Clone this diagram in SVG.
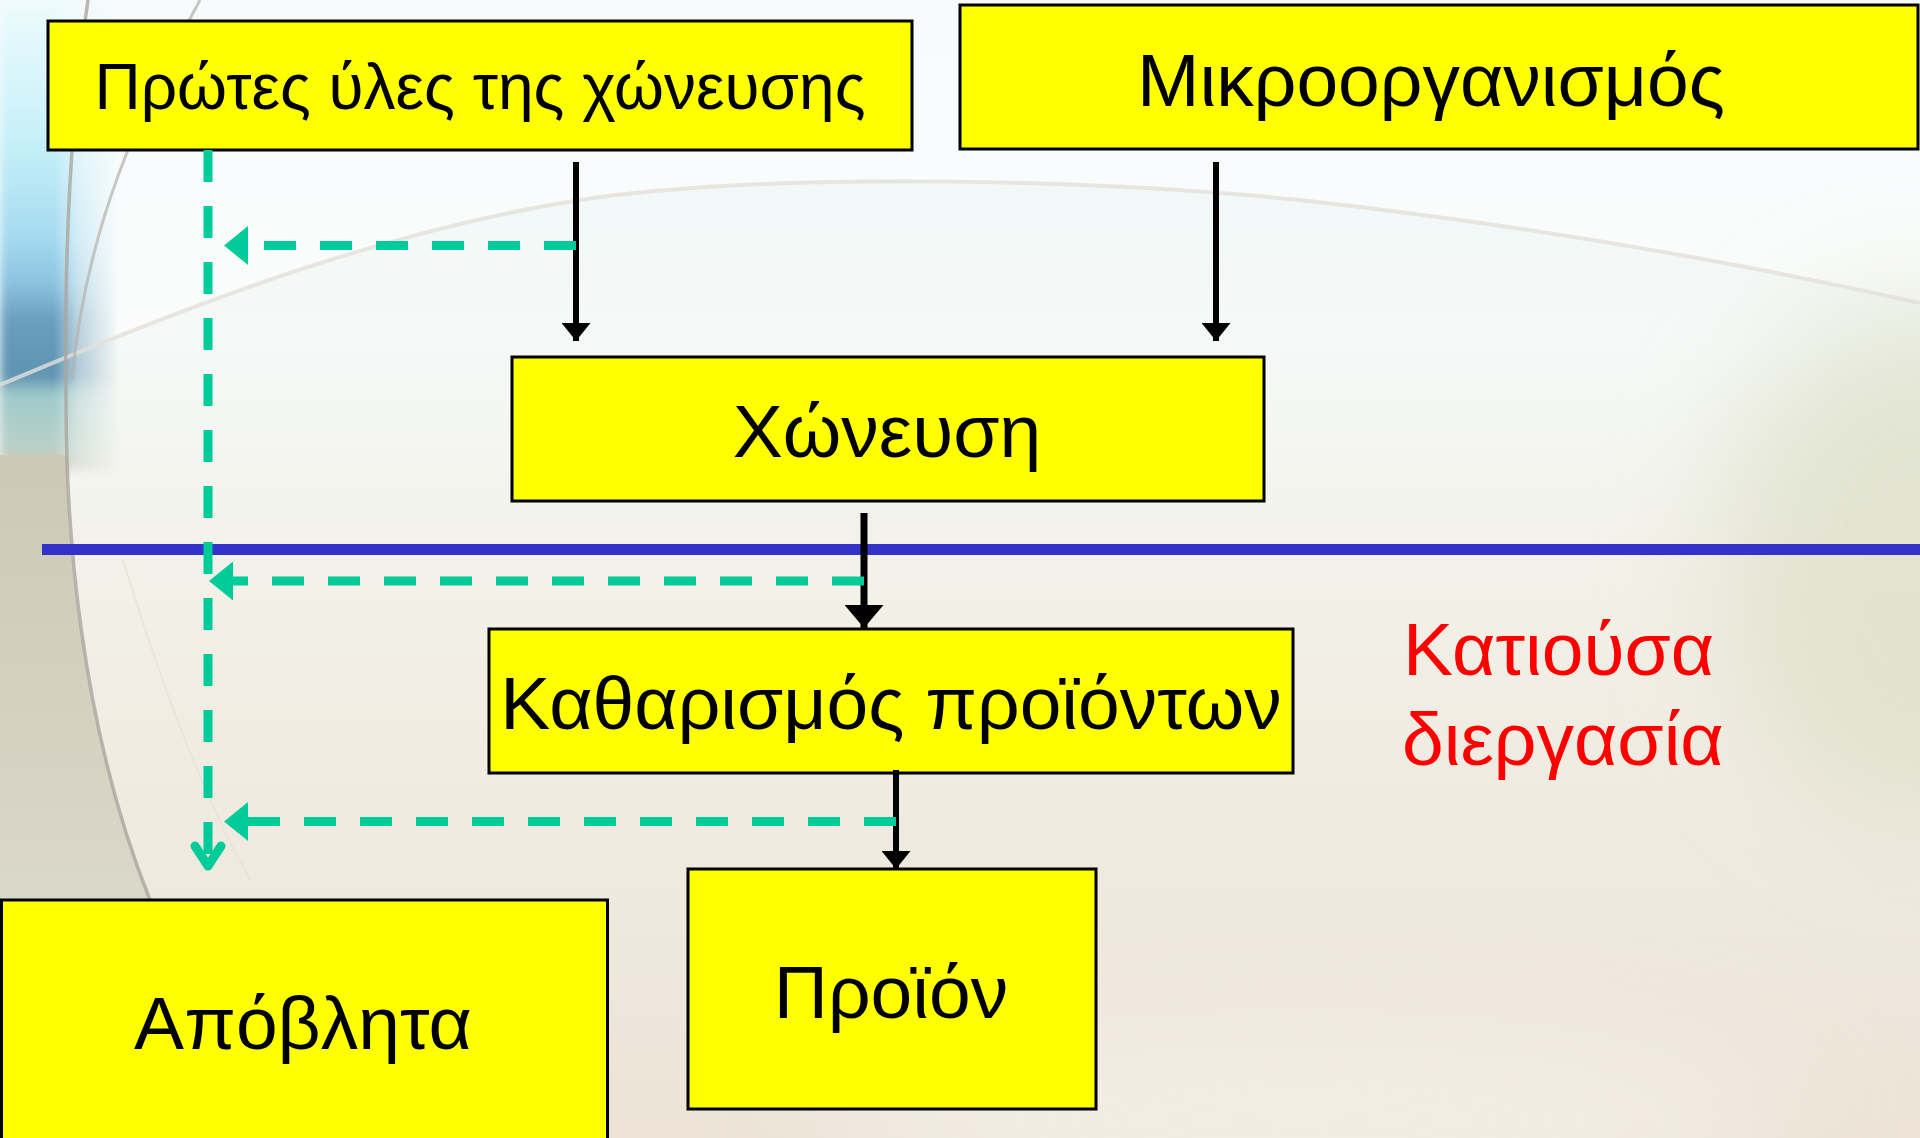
<svg xmlns="http://www.w3.org/2000/svg" width="1920" height="1138" viewBox="0 0 1920 1138">
<style>
.box{fill:#ffff00;stroke:#000;stroke-width:3}
.lbl{font-family:"Liberation Sans",Arial,sans-serif;fill:#000;text-anchor:middle;font-size:75px}
.red{font-family:"Liberation Sans",Arial,sans-serif;fill:#ff0000;font-size:75px}
.blk{stroke:#000;stroke-width:6;fill:none}
.dash{stroke:#00cc99;stroke-width:9;fill:none;stroke-dasharray:32 24}
</style>
<defs>
<linearGradient id="bg" x1="0" y1="0" x2="0" y2="1">
<stop offset="0" stop-color="#eef7f9"/>
<stop offset="0.3" stop-color="#f5f9f7"/>
<stop offset="0.55" stop-color="#f2efe6"/>
<stop offset="1" stop-color="#ece3d6"/>
</linearGradient>
<linearGradient id="leftTop" x1="0" y1="0" x2="0" y2="470" gradientUnits="userSpaceOnUse">
<stop offset="0" stop-color="#eefbfd"/>
<stop offset="0.3" stop-color="#c6f0f8"/>
<stop offset="0.5" stop-color="#a6dbf0"/>
<stop offset="0.6" stop-color="#8cc4e0"/>
<stop offset="0.68" stop-color="#6b9fbf"/>
<stop offset="0.8" stop-color="#5f93b2"/>
<stop offset="0.84" stop-color="#9fcaca"/>
<stop offset="0.95" stop-color="#b8d0c8"/>
<stop offset="1" stop-color="#cfcbb9"/>
</linearGradient>
<linearGradient id="leftBot" x1="0" y1="460" x2="0" y2="1138" gradientUnits="userSpaceOnUse">
<stop offset="0" stop-color="#cdc9b8"/>
<stop offset="0.4" stop-color="#d6d1c1"/>
<stop offset="0.7" stop-color="#dbdacb"/>
<stop offset="1" stop-color="#e2dccd"/>
</linearGradient>
<linearGradient id="fadeX" x1="0" y1="0" x2="120" y2="0" gradientUnits="userSpaceOnUse">
<stop offset="0" stop-color="#fff" stop-opacity="1"/>
<stop offset="0.45" stop-color="#fff" stop-opacity="1"/>
<stop offset="0.65" stop-color="#fff" stop-opacity="0.45"/>
<stop offset="1" stop-color="#fff" stop-opacity="0"/>
</linearGradient>
<mask id="leftMask"><rect x="0" y="0" width="120" height="480" fill="url(#fadeX)"/></mask>
<filter id="blur" x="-20%" y="-20%" width="140%" height="140%"><feGaussianBlur stdDeviation="5"/></filter>
<filter id="blur2" x="-50%" y="-50%" width="200%" height="200%"><feGaussianBlur stdDeviation="60"/></filter>
<marker id="ah" markerUnits="userSpaceOnUse" markerWidth="18" markerHeight="29" viewBox="0 0 18 29" refX="18" refY="14.5" orient="auto">
<path d="M0,0 L18,14.5 L0,29 Z" fill="#000"/>
</marker>
<marker id="ahL" markerUnits="userSpaceOnUse" markerWidth="23" markerHeight="39" viewBox="0 0 23 39" refX="23" refY="19.5" orient="auto">
<path d="M0,0 L23,19.5 L0,39 Z" fill="#000"/>
</marker>
<marker id="gh" markerUnits="userSpaceOnUse" markerWidth="24" markerHeight="39" viewBox="0 0 24 39" refX="16" refY="19.5" orient="auto">
<path d="M0,0 L24,19.5 L0,39 Z" fill="#00cc99"/>
</marker>
</defs>

<g id="background">
<rect width="1920" height="1138" fill="url(#bg)"/>
<path d="M0,385 C200,300 400,225 600,197 C800,172 1100,180 1300,200 C1550,228 1750,265 1920,303 L1920,0 L0,0 Z" fill="#ffffff" opacity="0.55"/>
<ellipse cx="1920" cy="560" rx="200" ry="260" fill="#dcdec6" opacity="0.7" filter="url(#blur2)"/>
<ellipse cx="1300" cy="1120" rx="500" ry="90" fill="#f6f2ea" opacity="0.7" filter="url(#blur2)"/>
<g mask="url(#leftMask)">
<rect x="0" y="0" width="120" height="470" fill="url(#leftTop)" filter="url(#blur)"/>
</g>
<path d="M0,455 L67,455 C67,520 78,720 150,900 L170,1138 L0,1138 Z" fill="url(#leftBot)"/>
<path d="M0,385 C200,300 400,225 600,197 C800,172 1100,180 1300,200 C1550,228 1750,265 1920,303" fill="none" stroke="#e4e0da" stroke-width="4" opacity="0.8"/>
<path d="M88,0 C70,120 64,250 66,400 C66,520 78,720 150,900 L175,990" fill="none" stroke="#aaa69e" stroke-width="3.5" opacity="0.8"/>
<path d="M200,0 C140,110 85,230 72,380" fill="none" stroke="#b5b1aa" stroke-width="3" opacity="0.7"/>
<path d="M123,560 C160,680 200,790 250,880" fill="none" stroke="#e8e2d8" stroke-width="2" opacity="0.8"/>
</g>

<g id="separator">
<line x1="42" y1="549.5" x2="1920" y2="549.5" stroke="#3333cc" stroke-width="11"/>
</g>

<g id="node-prwtes-yles">
<rect class="box" x="48" y="21" width="864" height="129"/>
<text class="lbl" x="480" y="109" font-size="64" style="font-size:64px">Πρώτες ύλες της χώνευσης</text>
</g>
<g id="node-mikroorganismos">
<rect class="box" x="960" y="5" width="958" height="144"/>
<text class="lbl" x="1431" y="106">Μικροοργανισμός</text>
</g>
<g id="node-xwneusi">
<rect class="box" x="512" y="357" width="752" height="144"/>
<text class="lbl" x="887" y="457">Χώνευση</text>
</g>
<g id="node-katharismos">
<rect class="box" x="489" y="629" width="804" height="144"/>
<text class="lbl" x="891" y="729">Καθαρισμός προϊόντων</text>
</g>
<g id="node-apovlita">
<rect class="box" x="1.5" y="900" width="606" height="260"/>
<text class="lbl" x="303" y="1049">Απόβλητα</text>
</g>
<g id="node-proion">
<rect class="box" x="688" y="869" width="408" height="240"/>
<text class="lbl" x="891" y="1018">Προϊόν</text>
</g>
<g id="label-katiousa">
<text class="red" x="1403" y="675">Κατιούσα</text>
<text class="red" x="1402" y="765">διεργασία</text>
</g>

<g id="connectors">
<line class="blk" x1="576" y1="162" x2="576" y2="341" marker-end="url(#ah)"/>
<line class="blk" x1="1216" y1="162" x2="1216" y2="341" marker-end="url(#ah)"/>
<line class="blk" x1="864" y1="513" x2="864" y2="628" stroke-width="7" style="stroke-width:7px" marker-end="url(#ahL)"/>
<line class="blk" x1="896" y1="770" x2="896" y2="869" marker-end="url(#ah)"/>
<line class="dash" x1="208" y1="150" x2="208" y2="862"/>
<polyline points="195,846 208,866 221,846" fill="none" stroke="#00cc99" stroke-width="9" stroke-linecap="round" stroke-linejoin="round"/>
<line class="dash" x1="576" y1="245.5" x2="232" y2="245.5" marker-end="url(#gh)"/>
<line class="dash" x1="864" y1="581" x2="217" y2="581" marker-end="url(#gh)"/>
<line class="dash" x1="896" y1="821.5" x2="232" y2="821.5" marker-end="url(#gh)"/>
</g>
</svg>
